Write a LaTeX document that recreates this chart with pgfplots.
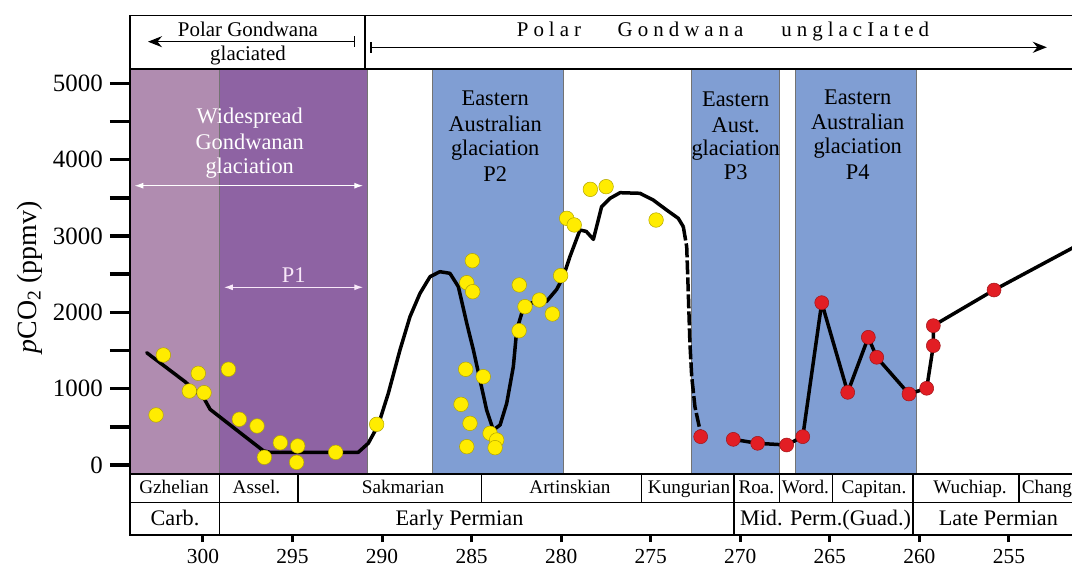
\documentclass[border=0pt]{standalone}
\usepackage{pgfplots}
\pgfplotsset{compat=1.18}
\usepackage{fontspec}
\setmainfont{Liberation Serif}
\usetikzlibrary{arrows.meta}
\newcommand\fs[1]{\fontsize{#1}{#1}\selectfont}
\definecolor{mauveL}{RGB}{176,140,176}
\definecolor{purpD}{RGB}{142,99,163}
\definecolor{glblue}{RGB}{128,158,211}
\definecolor{ptyellow}{RGB}{255,236,0}
\definecolor{ptred}{RGB}{226,30,36}
\definecolor{pone}{RGB}{248,232,248}
\begin{document}
\begin{tikzpicture}
\useasboundingbox (0,0) rectangle (1072bp,568bp);
\begin{axis}[
  at={(130bp,94bp)}, anchor=south west,
  scale only axis, width=960bp, height=405bp,
  x dir=reverse, xmin=250.472, xmax=304.074,
  ymin=-117.9, ymax=5187.3,
  axis on top,
  axis line style={line width=1.5bp},
  xtick=\empty,
  ytick={0,1000,2000,3000,4000,5000},
  yticklabels={0,1000,2000,3000,4000,5000},
  minor ytick={500,1500,2500,3500,4500},
  ytick pos=left, tick align=outside,
  major tick length=20bp, minor tick length=20bp,
  major tick style={line width=3.5bp,black},
  minor tick style={line width=3.5bp,black},
  yticklabel style={font=\fs{25}, inner sep=0pt},
  yticklabel shift=7bp,
]
% shaded intervals
\addplot[fill=mauveL, draw=black!55, line width=0.8bp] coordinates {(304.3,-300) (304.3,5400) (299.088,5400) (299.088,-300)} -- cycle;
\addplot[fill=purpD, draw=black!55, line width=0.8bp] coordinates {(299.088,-300) (299.088,5400) (290.824,5400) (290.824,-300)} -- cycle;
\addplot[fill=glblue, draw=black!55, line width=0.8bp] coordinates {(287.195,-300) (287.195,5400) (279.880,5400) (279.880,-300)} -- cycle;
\addplot[fill=glblue, draw=black!55, line width=0.8bp] coordinates {(272.711,-300) (272.711,5400) (267.820,5400) (267.820,-300)} -- cycle;
\addplot[fill=glblue, draw=black!55, line width=0.8bp] coordinates {(266.943,-300) (266.943,5400) (260.148,5400) (260.148,-300)} -- cycle;
% pCO2 curve (solid)
\addplot[black, line width=3.5bp, line join=round, line cap=round] coordinates {
(303.14,1471) (301.0,1091) (299.94,873) (299.6,729) (298.12,458) (296.63,187) (296.26,166)
(291.33,166) (290.77,284) (290.21,524) (289.65,939) (289.0,1506) (288.44,1943) (287.88,2249)
(287.32,2467) (286.77,2532) (286.21,2511) (285.74,2336) (285.27,1856) (284.9,1506) (284.53,1113)
(284.16,720) (283.79,458) (283.41,524) (283.04,808) (282.67,1288) (282.48,1768) (282.2,1987)
(281.83,2118) (280.81,2145) (280.25,2300) (279.88,2467) (279.51,2729) (278.95,3078) (278.6,3060)
(278.2,2956) (277.74,3384) (277.27,3493) (276.71,3567) (275.6,3559) (274.86,3471) (274.11,3340)
(273.46,3231) (273.18,3122)};
% dashed part
\addplot[black, line width=3.5bp, dash pattern=on 14bp off 3bp] coordinates {
(273.18,3122) (272.99,2860) (272.9,2249) (272.81,1594) (272.71,1157) (272.53,764) (272.29,502) (272.22,400)};
% later curve
\addplot[black, line width=3.5bp, line join=round] coordinates {
(270.39,336) (269.03,284) (267.41,262) (266.51,371) (265.45,2126) (264.0,952) (262.85,1673)
(262.38,1411) (260.58,930) (259.59,1005) (259.22,1563) (259.22,1825) (255.83,2292) (250.6,2950)};
% yellow data
\addplot[only marks, mark=*, mark size=7.3bp, mark options={fill=ptyellow, draw=ptyellow!70!black, line width=0.5bp}] coordinates {
(302.21,1441) (302.62,655) (300.26,1201) (300.76,969) (299.94,947) (298.58,1254) (297.97,599)
(296.98,511) (295.68,292) (296.57,101) (294.71,249) (294.77,35) (292.59,166) (290.30,533)
(284.96,2676) (285.27,2388) (284.94,2270) (285.33,1254) (284.35,1157) (285.59,795) (285.09,546)
(285.27,240) (283.97,415) (283.6,327) (283.69,227) (282.34,2358) (282.02,2074) (281.22,2161)
(280.49,1978) (282.35,1759) (280.03,2480)
(278.37,3611) (277.49,3646) (279.69,3231) (279.27,3144) (274.7,3209)};
% red data
\addplot[only marks, mark=*, mark size=7bp, mark options={fill=ptred, draw=ptred!70!black, line width=0.5bp}] coordinates {
(272.21,371) (270.39,336) (269.03,284) (267.41,262) (266.51,371) (265.45,2126) (264.0,952)
(262.85,1673) (262.38,1411) (260.58,930) (259.59,1005) (259.22,1563) (259.22,1825) (255.83,2292)};
\end{axis}
% axis for the age ticks below the stage boxes
\begin{axis}[
  at={(130bp,33bp)}, anchor=south west,
  scale only axis, width=960bp, height=20bp,
  x dir=reverse, xmin=250.472, xmax=304.074, ymin=0, ymax=1,
  hide y axis, axis x line*=bottom,
  axis line style={line width=1.5bp},
  xtick={255,260,265,270,275,280,285,290,295,300},
  xticklabels={255,260,265,270,275,280,285,290,295,300},
  tick align=outside, major tick length=7bp,
  major tick style={line width=3bp,black},
  xticklabel style={font=\fs{21.5}, inner sep=0pt},
  xticklabel shift=7bp,
]
\end{axis}
\begin{scope}[x=1bp, y=-1bp, yshift=568bp]
% top box
\draw[line width=1.5bp] (130,15.7) rectangle (1110,69);
\draw[line width=1.5bp] (365,15.7) -- (365,69);
\node[anchor=base, font=\fs{21}, inner sep=0pt] at (248,36.7) {Polar Gondwana};
\node[anchor=base, font=\fs{21}, inner sep=0pt] at (248,60.3) {glaciated};
\draw[line width=1.5bp, {Stealth[length=14bp,width=11bp]}-{Bar[width=11bp]}] (148,41.7) -- (355.4,41.7);
\draw[line width=1.5bp, {Bar[width=11bp]}-{Stealth[length=14bp,width=11bp]}] (370.2,47.3) -- (1046.8,47.3);
\node[anchor=base, font=\fs{21}, inner sep=0pt] at (549,36.7) {\addfontfeature{LetterSpace=24}Polar};
\node[anchor=base, font=\fs{21}, inner sep=0pt] at (680.6,36.7) {\addfontfeature{LetterSpace=24}Gondwana};
\node[anchor=base, font=\fs{21}, inner sep=0pt] at (855.3,36.7) {\addfontfeature{LetterSpace=24}unglacIated};
% glaciation labels
\begin{scope}[every node/.style={anchor=base, font=\fs{22.5}, inner sep=0pt}]
\node[white] at (249.7,124) {Widespread};
\node[white] at (249.7,149.3) {Gondwanan};
\node[white] at (249.7,174) {glaciation};
\node[pone] at (293.7,282.7) {P1};
\node at (495.2,106) {Eastern};
\node at (495.2,131.7) {Australian};
\node at (495.2,156) {glaciation};
\node at (495.2,181.7) {P2};
\node at (735.7,106.7) {Eastern};
\node at (735.7,132.7) {Aust.};
\node at (735.7,155.7) {glaciation};
\node at (735.7,180) {P3};
\node at (857.7,104.3) {Eastern};
\node at (857.7,129.3) {Australian};
\node at (857.7,154) {glaciation};
\node at (857.7,180) {P4};
\end{scope}
\draw[white, line width=1.3bp, {Latex[length=9bp,width=6bp]}-{Latex[length=9bp,width=6bp]}] (134.3,185.7) -- (363.3,185.7);
\draw[pone, line width=1.3bp, {Latex[length=9bp,width=6bp]}-{Latex[length=9bp,width=6bp]}] (223.8,287.3) -- (363.3,287.3);
% stage boxes
\draw[line width=1.5bp] (130,474) rectangle (1110,535);
\draw[line width=1.5bp] (130,502.7) -- (1110,502.7);
\foreach \xx in {219.3,298.2,481.4,641.7,734,779.6,832.5,913.2,1019}
  \draw[line width=1.5bp] (\xx,474) -- (\xx,502.7);
\foreach \xx in {219.3,734,913.2}
  \draw[line width=1.5bp] (\xx,502.7) -- (\xx,535);
\begin{scope}[every node/.style={anchor=base, font=\fs{19.3}, inner sep=0pt}]
\node at (174,493.3) {Gzhelian};
\node at (256.5,493.3) {Assel.};
\node at (403,493.3) {Sakmarian};
\node at (570,493.3) {Artinskian};
\node at (689,493.3) {Kungurian};
\node at (756.4,493.3) {Roa.};
\node at (805.5,493.3) {Word.};
\node at (874,493.3) {Capitan.};
\node at (970,493.3) {Wuchiap.};
\node[anchor=base west] at (1021.7,493.3) {Chang};
\end{scope}
\begin{scope}[every node/.style={anchor=base, font=\fs{22.3}, inner sep=0pt}]
\node at (175,526) {Carb.};
\node at (459.5,526) {Early Permian};
\node at (825.5,526) {Mid. Perm.(Guad.)};
\node at (998.4,526) {Late Permian};
\end{scope}
% y axis label
\node[rotate=90, font=\fs{28}, inner sep=0pt] at (29.5,277.5) {\textit{p}CO\textsubscript{2} (ppmv)};
\end{scope}
\end{tikzpicture}
\end{document}
